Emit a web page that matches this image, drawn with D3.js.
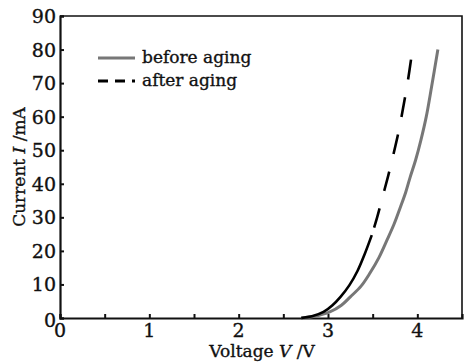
<!DOCTYPE html>
<html>
<head>
<meta charset="utf-8">
<script src="https://cdn.jsdelivr.net/npm/d3@7"></script>
<style>
  body { margin: 0; background: #fff; }
  text { font-family: "DejaVu Serif", serif; fill: #111; stroke: #111; stroke-width: 0.35; }
</style>
</head>
<body>
<div id="chart"></div>
<script>
// --------------------------------------
//  Data
// --------------------------------------

const xTicks = [0, 0.5, 1, 1.5, 2, 2.5, 3, 3.5, 4];
const xLabels = [0, 1, 2, 3, 4];
const yTicks = [0, 10, 20, 30, 40, 50, 60, 70, 80, 90];

const beforeV = [2.70, 2.85, 3.02, 3.15, 3.25, 3.37, 3.47, 3.57, 3.66, 3.74, 3.81, 3.87, 3.92, 3.98, 4.04, 4.10, 4.16, 4.23];
const beforeI = [0, 0.5, 1.8, 3.8, 6.3, 9.5, 13.4, 18, 23.2, 28, 33, 37.5, 42, 47, 53, 60, 69, 80];

const afterV = [2.70, 2.82, 2.95, 3.05, 3.14, 3.24, 3.33, 3.41, 3.49, 3.55, 3.61, 3.67, 3.73, 3.79, 3.84, 3.89, 3.94];
const afterI = [0, 0.5, 1.8, 3.8, 6.3, 9.8, 14, 19, 24.7, 30, 36, 42, 48.5, 55.5, 62.5, 70, 79];

const before = beforeV.map((v, i) => ({V: v, I: beforeI[i]}));
const after = afterV.map((v, i) => ({V: v, I: afterI[i]}));

// --------------------------------------
//  Canvas
// --------------------------------------

const width = 464;
const height = 363;
const margin = {top: 16, right: 2, bottom: 45, left: 60};
const innerwidth = width - margin.left - margin.right;
const innerheight = height - margin.top - margin.bottom;

const svg = d3.select("#chart")
  .append("svg")
    .attr("width", width)
    .attr("height", height);

const g = svg.append("g")
    .attr("transform", `translate(${margin.left}, ${margin.top})`);

// --------------------------------------
//  Scales
// --------------------------------------

const x = d3.scaleLinear().domain([0, 4.5]).range([0, innerwidth]);
const y = d3.scaleLinear().domain([0, 90]).range([innerheight, 0]);

// --------------------------------------
//  Axes
// --------------------------------------

// frame: top and right
g.append("path")
    .attr("d", `M0,0H${innerwidth}V${innerheight}`)
    .attr("fill", "none")
    .attr("stroke", "#111")
    .attr("stroke-width", 1.6);

const xAxis = g.append("g")
    .attr("transform", `translate(0, ${innerheight})`)
    .call(d3.axisTop(x).tickValues(xTicks).tickSize(4).tickFormat(""));
xAxis.select(".domain").attr("stroke-width", 2.2).attr("stroke", "#111");
xAxis.selectAll(".tick line").attr("stroke-width", 2).attr("stroke", "#111");

g.selectAll(".xlab")
  .data(xLabels)
  .join("text")
    .attr("class", "xlab")
    .attr("x", d => x(d))
    .attr("y", innerheight + 19)
    .attr("text-anchor", "middle")
    .attr("font-size", 19)
    .text(d => d);

const yAxis = g.append("g")
    .call(d3.axisRight(y).tickValues(yTicks).tickSize(4).tickFormat(""));
yAxis.select(".domain").attr("stroke-width", 2.2).attr("stroke", "#111");
yAxis.selectAll(".tick line").attr("stroke-width", 2).attr("stroke", "#111");

g.selectAll(".ylab")
  .data(yTicks)
  .join("text")
    .attr("class", "ylab")
    .attr("x", -4)
    .attr("y", d => y(d) + 7 + (d === 0 ? 2 : 0))
    .attr("text-anchor", "end")
    .attr("font-size", 19)
    .text(d => d);

// axis titles
const xt = svg.append("text")
    .attr("x", 262)
    .attr("y", 357)
    .attr("text-anchor", "middle")
    .attr("font-size", 17);
xt.append("tspan").text("Voltage ");
xt.append("tspan").attr("font-style", "italic").text("V");
xt.append("tspan").text(" /V");

const yt = svg.append("text")
    .attr("transform", "translate(25, 167) rotate(-90)")
    .attr("text-anchor", "middle")
    .attr("font-size", 17);
yt.append("tspan").text("Current ");
yt.append("tspan").attr("font-style", "italic").text("I");
yt.append("tspan").text(" /mA");

// --------------------------------------
//  Lines
// --------------------------------------

const line = d3.line()
    .x(d => x(d.V))
    .y(d => y(d.I))
    .curve(d3.curveCatmullRom);

g.append("path")
    .datum(before)
    .attr("d", line)
    .attr("fill", "none")
    .attr("stroke", "#777")
    .attr("stroke-width", 3);

// after aging: solid near the knee, dashed above
g.append("path")
    .datum(after.filter(d => d.I <= 25))
    .attr("d", line)
    .attr("fill", "none")
    .attr("stroke", "#000")
    .attr("stroke-width", 2.6);

g.append("path")
    .datum(after.filter(d => d.I >= 24.7))
    .attr("d", line)
    .attr("fill", "none")
    .attr("stroke", "#000")
    .attr("stroke-width", 2.6)
    .attr("stroke-dasharray", "0,8,20,10");

// --------------------------------------
//  Legend
// --------------------------------------

const legend = [
  {label: "before aging", color: "#777", dash: null, w: 3},
  {label: "after aging", color: "#000", dash: "10,7", w: 3}
];

const lg = svg.append("g").attr("transform", "translate(98, 58)");
lg.selectAll("line")
  .data(legend)
  .join("line")
    .attr("x1", 0).attr("x2", 37)
    .attr("y1", (d, i) => i * 23).attr("y2", (d, i) => i * 23)
    .attr("stroke", d => d.color)
    .attr("stroke-width", d => d.w)
    .attr("stroke-dasharray", d => d.dash);
lg.selectAll("text")
  .data(legend)
  .join("text")
    .attr("x", 44)
    .attr("y", (d, i) => i * 23 + 5)
    .attr("font-size", 17)
    .text(d => d.label);
</script>
</body>
</html>
